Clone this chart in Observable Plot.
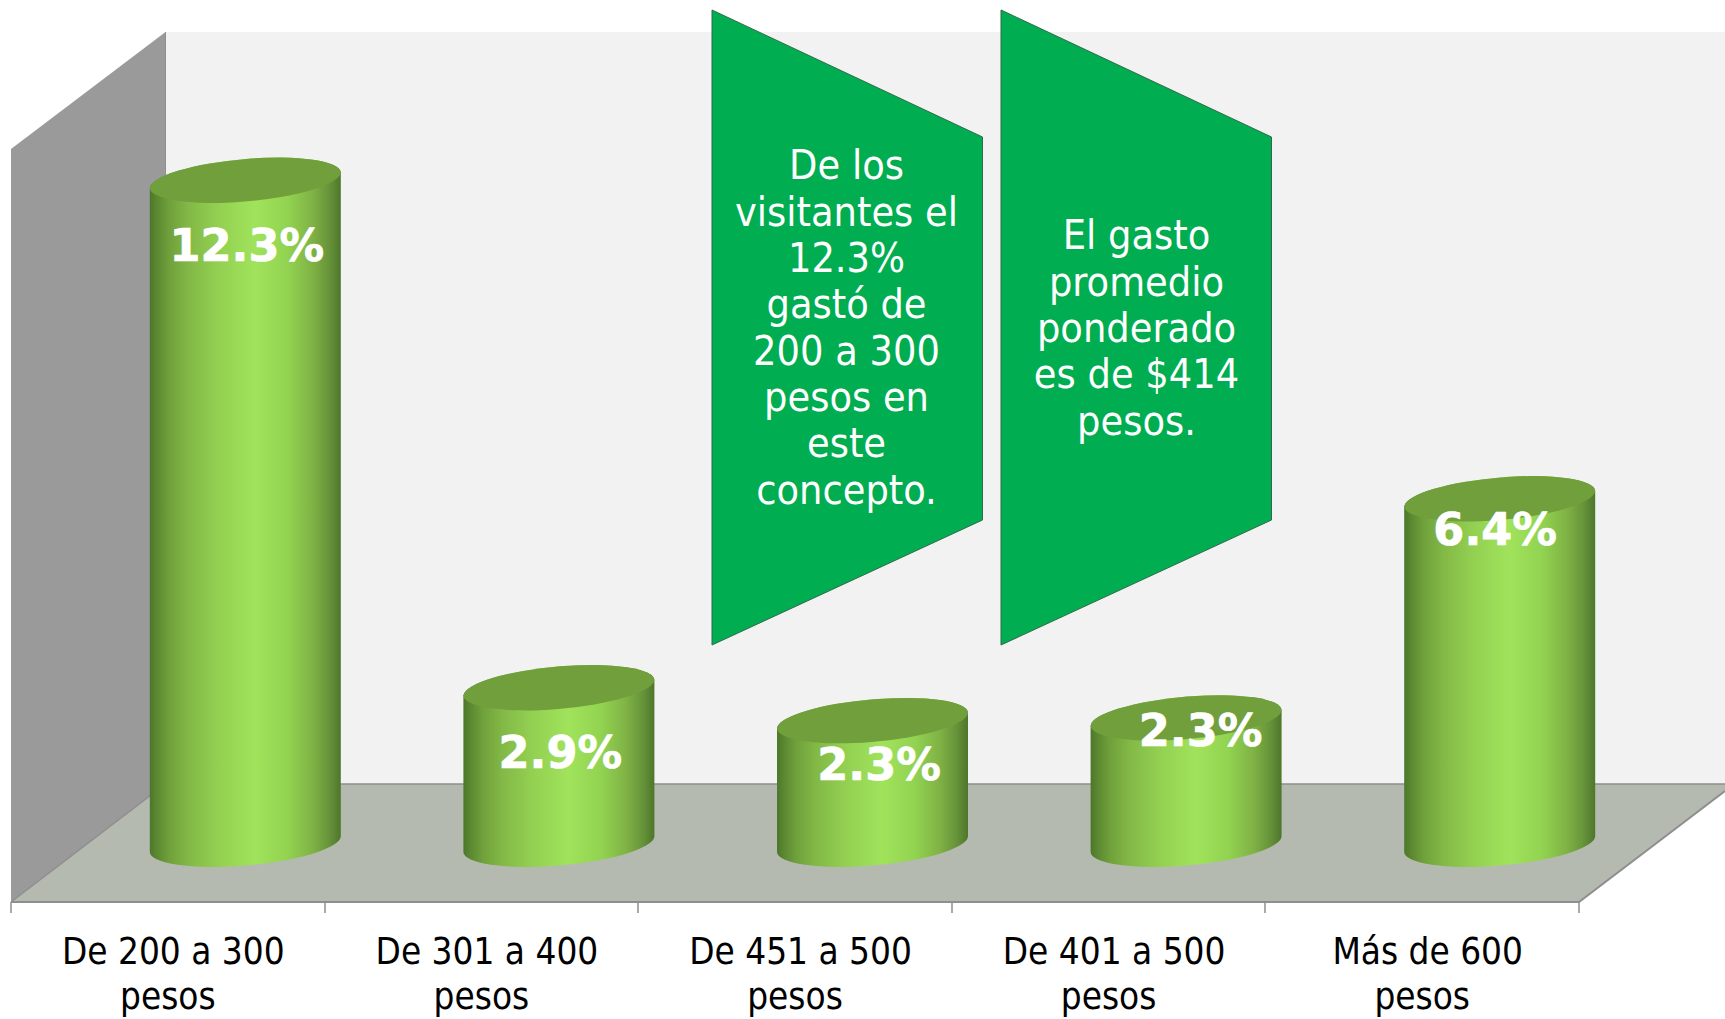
<!DOCTYPE html>
<html>
<head>
<meta charset="utf-8">
<script src="https://cdn.jsdelivr.net/npm/d3@7"></script>
<script src="https://cdn.jsdelivr.net/npm/@observablehq/plot@0.6"></script>
<style>
html,body{margin:0;padding:0;background:#fff}
svg{display:block}
</style>
</head>
<body>
<div id="chart"></div>
<script>
// data
const categoryLine1 = ["De 200 a 300", "De 301 a 400", "De 451 a 500", "De 401 a 500", "Más de 600"];
const categoryLine2 = ["pesos", "pesos", "pesos", "pesos", "pesos"];
const values = [12.3, 2.9, 2.29, 2.34, 6.4];
const valueLabels = ["12.3%", "2.9%", "2.3%", "2.3%", "6.4%"];
const calloutA = "De los\nvisitantes el\n12.3%\ngastó de\n200 a 300\npesos en\neste\nconcepto.";
const calloutB = "El gasto\npromedio\nponderado\nes de $414\npesos.";

// layout (pixels)
const W = 1725, H = 1019;
const FONT = '"DejaVu Sans Condensed","DejaVu Sans",sans-serif';
const xRange = [11, 1579], yRange = [852, 188];
const step = (xRange[1] - xRange[0]) / values.length;
const depthDx = 77.5;
const slant = 15.5;                // vertical rise of a cylinder's right edge
const ell = {a: 95.85, b: 21.5, rot: -5};
const labelNudge = [[1, 58], [1, 58], [6, 37], [14, 6], [-5, 24]];
const axisNudge = [5, -0.5];

const rows = values.map((v, i) => ({cat: categoryLine1[i], line2: categoryLine2[i], v, label: valueLabels[i], i}));

const svgEl = (name, attrs) => {
  const e = document.createElementNS("http://www.w3.org/2000/svg", name);
  for (const k in attrs) e.setAttribute(k, attrs[k]);
  return e;
};

// 3D room behind the bars
function room() {
  const g = svgEl("g", {});
  const poly = (pts, fill) => g.appendChild(svgEl("polygon", {points: pts, fill}));
  poly("165.5,32 1725,32 1725,784 165.5,784", "#f2f2f2");
  poly("11,149 165.5,32 165.5,784 11,902", "#9a9a9a");
  poly("11,902 165.5,784 1725,784 1725,791 1579,902", "#b5bab0");
  const line = (d, w) => g.appendChild(svgEl("path", {d, fill: "none", stroke: "#8e8e8e", "stroke-width": w}));
  line("M11,902L165.5,784L1725,784", 1.5);
  line("M1725,791L1579,902L11,902", 2);
  line("M165.5,32V784", 1);
  for (let i = 0; i <= values.length; ++i) {
    const x = Math.round(xRange[0] + i * step);
    line(`M${x},902V913`, 1.5);
  }
  return g;
}

// gradient + cylinder rendering
function cylinders(index, scales, channels, dims, ctx, next) {
  const g = next(index, scales, channels, dims, ctx);
  const defs = svgEl("defs", {});
  const grad = svgEl("linearGradient", {id: "cyl", x1: 0, x2: 1, y1: 0, y2: 0});
  [[0, "#4c762a"], [.03, "#598530"], [.1, "#6fa03b"], [.2, "#82b846"], [.35, "#92cf51"], [.55, "#a0e35b"],
   [.72, "#92d351"], [.85, "#80b345"], [.94, "#66933a"], [1, "#4e762b"]].forEach(([o, c]) =>
    grad.appendChild(svgEl("stop", {offset: o, "stop-color": c})));
  defs.appendChild(grad);
  g.insertBefore(defs, g.firstChild);
  const {a, b, rot} = ell;
  g.querySelectorAll("rect").forEach(r => {
    const x0 = +r.getAttribute("x"), w = +r.getAttribute("width");
    const y0 = +r.getAttribute("y"), h = +r.getAttribute("height");
    const x1 = x0 + w, y1 = y0 + h;
    const arc = `A${a},${b} ${rot} 0 0 `;
    const body = svgEl("path", {
      fill: "url(#cyl)",
      d: `M${x0},${y0}L${x0},${y1}${arc}${x1},${y1 - slant}L${x1},${y0 - slant}${arc}${x0},${y0}Z`
    });
    const cap = svgEl("path", {
      fill: "#709f3c",
      d: `M${x0},${y0}${arc}${x1},${y0 - slant}${arc}${x0},${y0}Z`
    });
    r.replaceWith(body);
    body.after(cap);
  });
  return g;
}

const calloutPoly = (x0, x1) => () => svgEl("polygon", {
  points: `${x0},10 ${x1},137 ${x1},520 ${x0},645`,
  fill: "#00ad50", stroke: "#2f6b4a", "stroke-width": 1
});

const calloutText = (text, cx, top) => Plot.text([text], {
  text: d => d, frameAnchor: "top-left", dx: cx, dy: top, textAnchor: "middle", lineAnchor: "top",
  fill: "#fff", fontSize: 41, lineHeight: 1.13, fontFamily: FONT
});

const plot = Plot.plot({
  width: W, height: H,
  marginTop: 0, marginRight: 0, marginBottom: 0, marginLeft: 0,
  style: {background: "#fff", fontFamily: FONT, overflow: "hidden"},
  x: {type: "band", domain: categoryLine1, range: xRange, paddingInner: 0.391, paddingOuter: 0.1955, align: 0.5, round: false},
  y: {type: "linear", domain: [0, 12.3], range: yRange, axis: null},
  marks: [
    room,
    Plot.axisX({
      anchor: "bottom", tickSize: 0, label: null, tickPadding: 0, fontSize: 36.6, fill: "#000",
      dx: axisNudge[0], dy: -56, fontFamily: FONT, lineAnchor: "bottom"
    }),
    Plot.axisX({
      anchor: "bottom", tickSize: 0, label: null, tickPadding: 0, fontSize: 36.6, fill: "#000",
      dx: axisNudge[1], dy: -11, fontFamily: FONT, lineAnchor: "bottom",
      tickFormat: c => categoryLine2[categoryLine1.indexOf(c)]
    }),
    Plot.barY(rows, {x: "cat", y: "v", dx: depthDx, fill: "#709f3c", render: cylinders}),
    calloutPoly(712, 982.5),
    calloutPoly(1001, 1271.5),
    calloutText(calloutA, 846, 146),
    calloutText(calloutB, 1136, 216),
    ...rows.map((r, i) => Plot.text([r], {
      x: "cat", y: "v", text: "label", dx: depthDx + labelNudge[i][0], dy: labelNudge[i][1],
      fill: "#fff", stroke: "#fff", strokeWidth: 0.7, fontSize: 44.6, fontWeight: "bold", fontFamily: '"DejaVu Sans",sans-serif'
    }))
  ]
});
document.getElementById("chart").appendChild(plot);
</script>
</body>
</html>
